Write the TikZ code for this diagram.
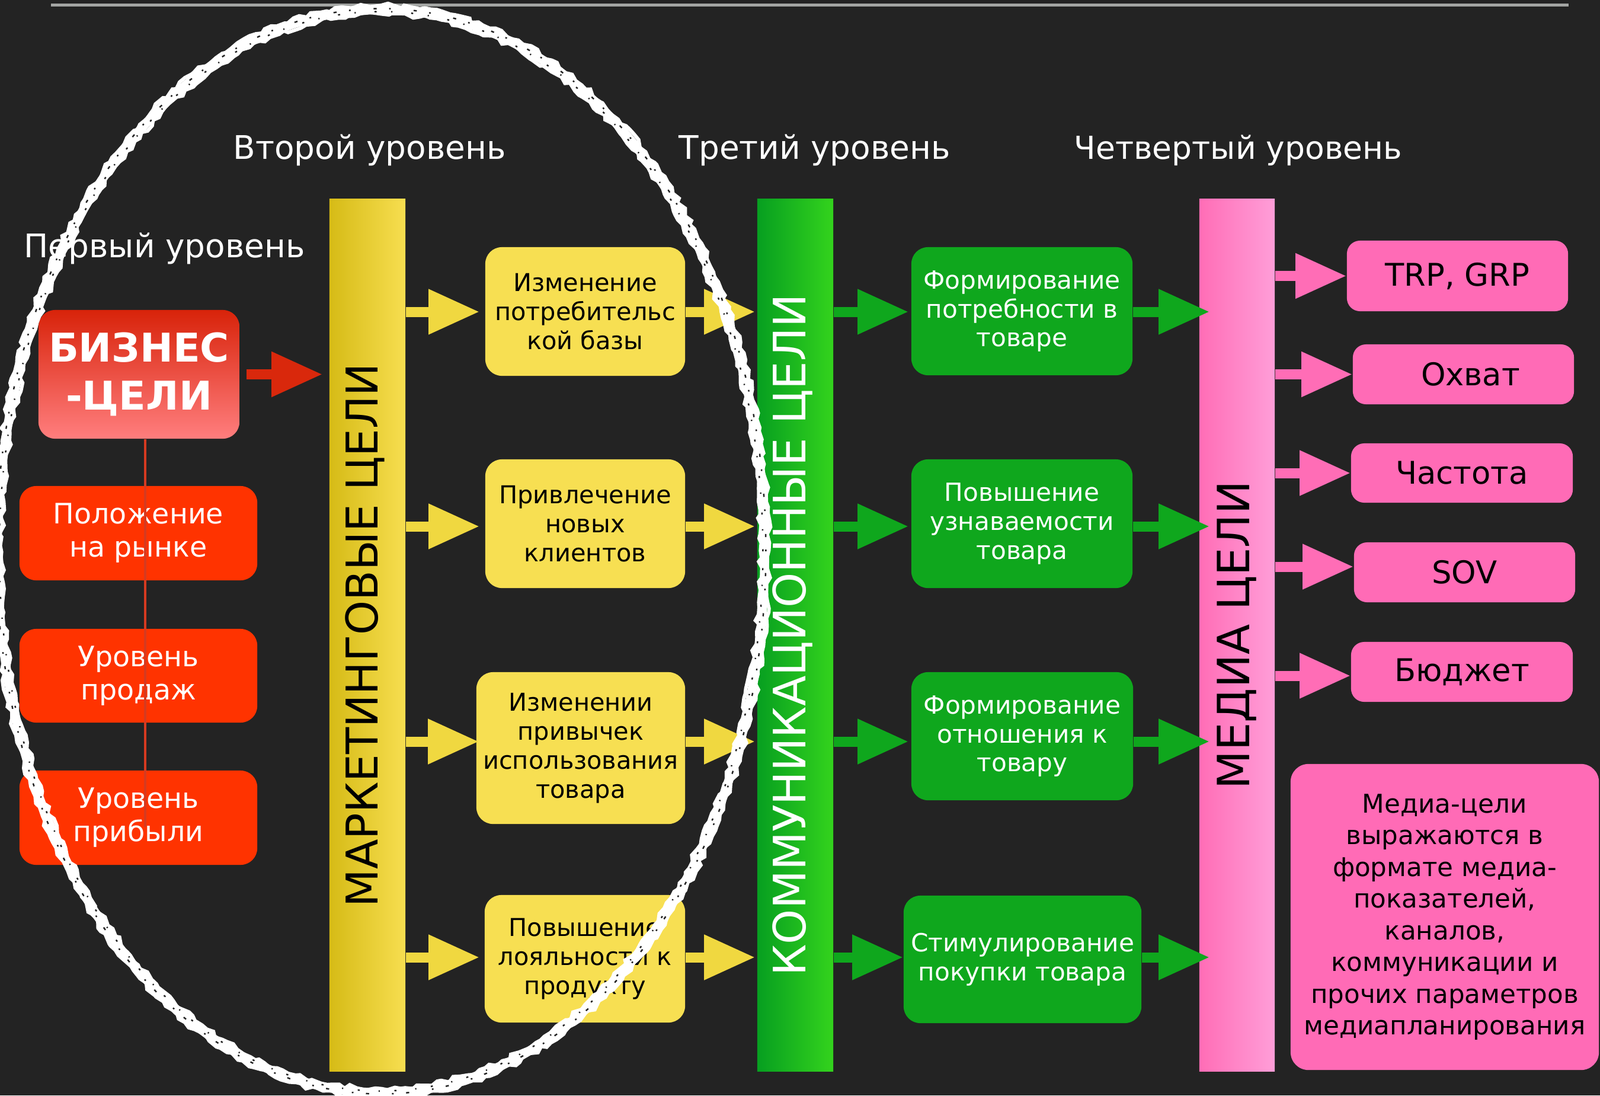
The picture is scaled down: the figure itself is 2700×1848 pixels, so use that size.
\documentclass[tikz,border=0pt]{standalone}
\usepackage{fontspec}
\setmainfont{DejaVu Sans}
\usetikzlibrary{arrows.meta,decorations.pathmorphing,calc}
\definecolor{bgc}{HTML}{232323}
\definecolor{cGray}{HTML}{A3A5A3}
\definecolor{cRed}{HTML}{FF3300}
\definecolor{cRedTop}{HTML}{D8230A}
\definecolor{cRedBot}{HTML}{FF7E7E}
\definecolor{cRedArr}{HTML}{D9280C}
\definecolor{cRedLine}{HTML}{D63A20}
\definecolor{cYbox}{HTML}{F7DF52}
\definecolor{cYarr}{HTML}{F0D840}
\definecolor{cYL}{HTML}{D6BB16}
\definecolor{cYR}{HTML}{F7DE50}
\definecolor{cGbox}{HTML}{0FA71D}
\definecolor{cGL}{HTML}{079F20}
\definecolor{cGR}{HTML}{33D31D}
\definecolor{cPbox}{HTML}{FF6BB6}
\definecolor{cPL}{HTML}{FF6DB6}
\definecolor{cPR}{HTML}{FF9ED8}
\newcommand\myfs[2]{\fontsize{#1}{#2}\selectfont}
\begin{document}
\begin{tikzpicture}[x=0.01cm,y=-0.01cm,
  hdr/.style={text=white, anchor=base west, inner sep=0, font=\myfs{15.6}{18}},
  rbox/.style={rounded corners=0.28cm, inner sep=0, align=center},
  ybox/.style={rbox, fill=cYbox, text=black, font=\myfs{11.8}{13.9}},
  gbox/.style={rbox, fill=cGbox, text=white, font=\myfs{12}{13.9}},
  rsm/.style={rbox, fill=cRed, text=white, font=\myfs{13.5}{15.9}, minimum width=4.01cm},
  pbox/.style={rbox, rounded corners=0.22cm, fill=cPbox, text=black, font=\myfs{15}{18}},
  bar/.style={inner sep=0, minimum width=1.28cm, minimum height=14.71cm},
  arr/.style={line width=0.17cm, -{Triangle[length=0.86cm,width=0.72cm]}},
  yarr/.style={arr, draw=cYarr},
  garr/.style={arr, draw=cGbox},
  parr/.style={arr, draw=cPL},
  rarr/.style={arr, draw=cRedArr},
  chalkbase/.style={draw=white, line width=0.15cm},
  chalkrough/.style={draw=white, line width=0.06cm, decorate, decoration={random steps, segment length=3pt, amplitude=1.1pt}},
  chalkholes/.style={draw=bgc, line width=0.7pt, dash pattern=on 0.8pt off 6pt on 1.5pt off 11pt}
]
\useasboundingbox (0,0) rectangle (2700,1848);
\fill[bgc] (0,0) rectangle (2700,1848);
\draw[cGray, line width=0.05cm] (86,8.5) -- (2647,8.5);

% headers
\node[hdr] (h1) at (40,434) {Первый уровень};
\node[hdr] (h2) at (393,268) {Второй уровень};
\node[hdr] (h3) at (1145,268) {Третий уровень};
\node[hdr, font=\myfs{15.2}{18}] (h4) at (1812,268) {Четвертый уровень};

% arrow levels
\coordinate (L1) at (0,526);
\coordinate (L2) at (0,888);
\coordinate (L3) at (0,1251);
\coordinate (L4) at (0,1615);
\coordinate (rlend) at (245,1395);

% level 1
\node[rbox, top color=cRedTop, bottom color=cRedBot, text=white, font=\bfseries\myfs{19}{22.8}, minimum width=3.39cm, minimum height=2.17cm] (biz) at (234.5,631.5) {БИЗНЕС\\-ЦЕЛИ};
\node[rsm, minimum height=1.59cm] (r1) at (233.5,899.5) {Положение\\на рынке};
\node[rsm, minimum height=1.58cm] (r2) at (233.5,1140) {Уровень\\продаж};
\node[rsm, minimum height=1.59cm] (r3) at (233.5,1379.5) {Уровень\\прибыли};
\draw[cRedLine, line width=0.045cm] (biz.south -| rlend) -- (rlend);

% bars
\node[bar, left color=cYL, right color=cYR] (mbar) at (620,1071.5) {};
\node[rotate=90, inner sep=0, text=black, font=\myfs{21}{24}] (mtext) at ([xshift=-0.04cm]mbar.center) {МАРКЕТИНГОВЫЕ ЦЕЛИ};
\node[bar, left color=cGL, right color=cGR] (gbar) at (1342,1071.5) {};
\node[rotate=90, inner sep=0, text=white, font=\myfs{21.4}{24}] (gtext) at ([xshift=-0.05cm]gbar.center) {КОММУНИКАЦИОННЫЕ ЦЕЛИ};
\node[bar, minimum width=1.27cm, left color=cPL, right color=cPR] (pbar) at (2087.5,1071.5) {};
\node[rotate=90, inner sep=0, text=black, font=\myfs{21.3}{24}] (ptext) at (pbar.center) {МЕДИА ЦЕЛИ};

% level 2 boxes
\node[ybox, minimum width=3.37cm, minimum height=2.17cm] (y1) at (987.5,525.5) {Изменение\\потребительс\\кой базы};
\node[ybox, minimum width=3.37cm, minimum height=2.17cm] (y2) at (987.5,883.5) {Привлечение\\новых\\клиентов};
\node[ybox, minimum width=3.52cm, minimum height=2.56cm] (y3) at (980,1262) {Изменении\\привычек\\использования\\товара};
\node[ybox, minimum width=3.38cm, minimum height=2.15cm] (y4) at (987,1617.5) {Повышение\\лояльности к\\продукту};

% level 3 boxes
\node[gbox, minimum width=3.73cm, minimum height=2.16cm] (g1) at (1724.5,525) {Формирование\\потребности в\\товаре};
\node[gbox, minimum width=3.73cm, minimum height=2.17cm] (g2) at (1724.5,883.5) {Повышение\\узнаваемости\\товара};
\node[gbox, minimum width=3.74cm, minimum height=2.16cm] (g3) at (1725,1242) {Формирование\\отношения к\\товару};
\node[gbox, minimum width=4.01cm, minimum height=2.15cm] (g4) at (1725.5,1618.5) {Стимулирование\\покупки товара};

% level 4 boxes
\node[pbox, minimum width=3.73cm, minimum height=1.19cm] (p1) at (2459.5,465.5) {TRP, GRP};
\node[pbox, minimum width=3.73cm, minimum height=1.01cm] (p2) at (2469.5,631.5) {\hspace*{0.24cm}Охват};
\node[pbox, minimum width=3.74cm, minimum height=1.00cm] (p3) at (2467,798) {Частота};
\node[pbox, minimum width=3.73cm, minimum height=1.01cm] (p4) at (2471.5,965.5) {SOV};
\node[pbox, minimum width=3.74cm, minimum height=1.01cm] (p5) at (2467,1133.5) {Бюджет};
\node[rbox, rounded corners=0.3cm, fill=cPbox, text=black, font=\myfs{12.4}{15.2}, minimum width=5.2cm, minimum height=5.16cm] (pbig) at (2438,1547) {Медиа-цели\\выражаются в\\формате медиа-\\показателей,\\каналов,\\коммуникации и\\прочих параметров\\медиапланирования};

% arrows
\draw[rarr] ([xshift=0.11cm]biz.east) -- ([xshift=-0.11cm]mbar.west |- biz.east);

\draw[yarr] (mbar.east |- L1) -- ([xshift=-0.09cm]y1.west |- L1);
\draw[yarr] (mbar.east |- L2) -- ([xshift=-0.09cm]y2.west |- L2);
\draw[yarr] (mbar.east |- L3) -- ([xshift=0.05cm]y3.west |- L3);
\draw[yarr] (mbar.east |- L4) -- ([xshift=-0.08cm]y4.west |- L4);
\draw[yarr] (y1.east |- L1) -- ([xshift=-0.03cm]gbar.west |- L1);
\draw[yarr] (y2.east |- L2) -- ([xshift=-0.03cm]gbar.west |- L2);
\draw[yarr] (y3.east |- L3) -- ([xshift=-0.03cm]gbar.west |- L3);
\draw[yarr] (y4.east |- L4) -- ([xshift=-0.03cm]gbar.west |- L4);

\draw[garr] (gbar.east |- L1) -- ([xshift=-0.04cm]g1.west |- L1);
\draw[garr] (gbar.east |- L2) -- ([xshift=-0.04cm]g2.west |- L2);
\draw[garr] (gbar.east |- L3) -- ([xshift=-0.04cm]g3.west |- L3);
\draw[garr] (gbar.east |- L4) -- (g4.west |- L4);
\draw[garr] (g1.east |- L1) -- ([xshift=0.18cm]pbar.west |- L1);
\draw[garr] (g2.east |- L2) -- ([xshift=0.18cm]pbar.west |- L2);
\draw[garr] (g3.east |- L3) -- ([xshift=0.18cm]pbar.west |- L3);
\draw[garr] (g4.east |- L4) -- ([xshift=0.18cm]pbar.west |- L4);

\draw[parr] (pbar.east |- p1.west) -- (p1.west);
\draw[parr] (pbar.east |- p2.west) -- (p2.west);
\draw[parr] (pbar.east |- p3.west) -- (p3.west);
\draw[parr] ([yshift=0.095cm]pbar.east |- p4.west) -- ([yshift=0.095cm]p4.west);
\draw[parr] ([yshift=-0.065cm]pbar.east |- p5.west) -- ([yshift=-0.065cm]p5.west);

% chalk ellipse
\draw[chalkbase] (643,930) ellipse [x radius=6.47cm, y radius=9.13cm];
\draw[chalkrough] (643,930) ellipse [x radius=6.54cm, y radius=9.20cm];
\draw[chalkrough] (643,930) ellipse [x radius=6.40cm, y radius=9.06cm];
\draw[chalkholes] (643,930) ellipse [x radius=6.49cm, y radius=9.15cm];
\draw[chalkholes, dash pattern=on 1pt off 9pt on 0.6pt off 7pt] (643,930) ellipse [x radius=6.44cm, y radius=9.10cm];
\end{tikzpicture}
\end{document}
